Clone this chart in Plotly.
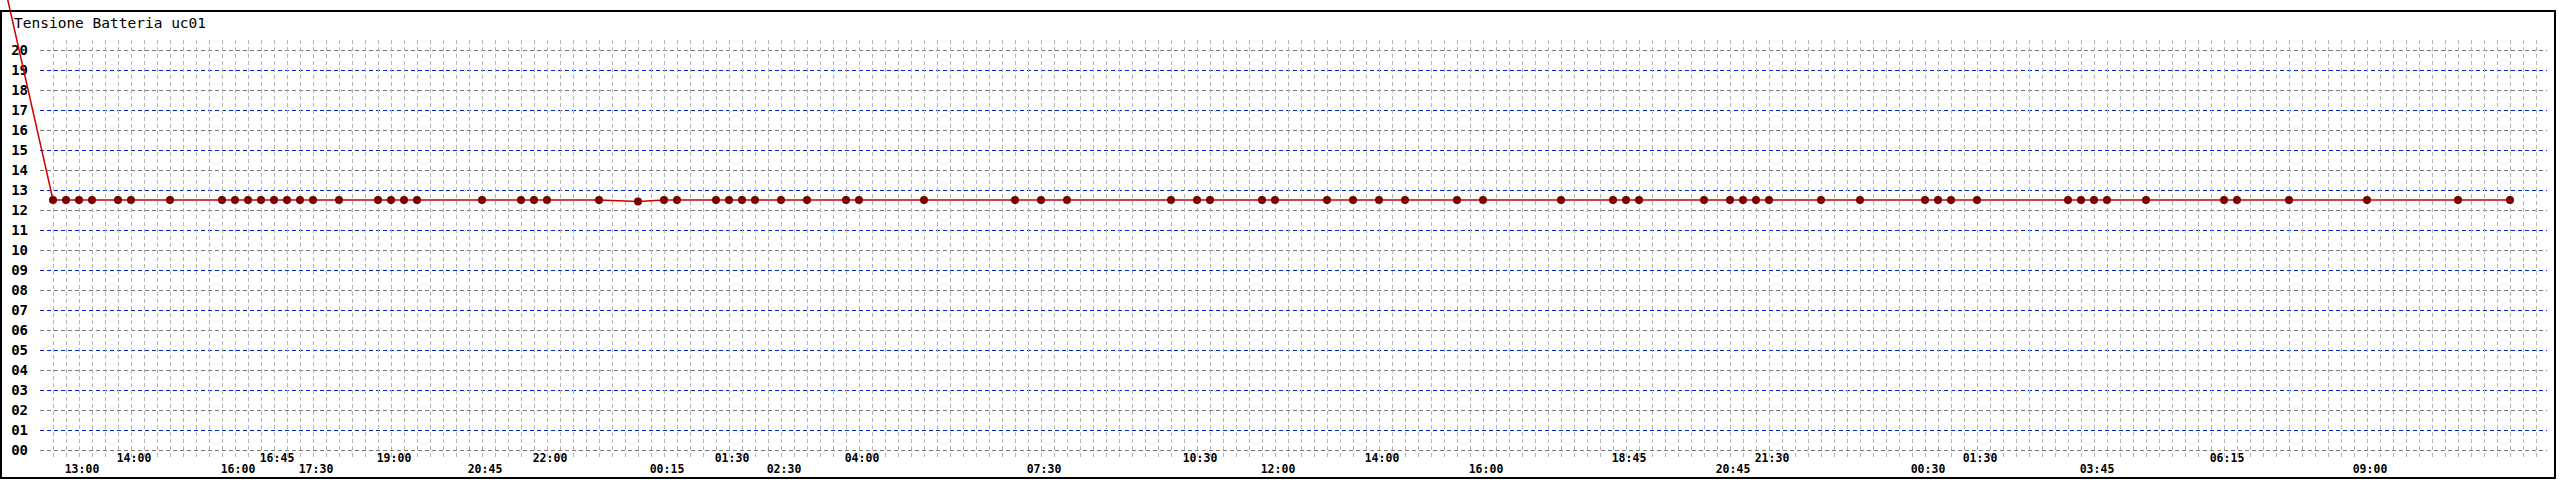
import plotly.graph_objects as go
from datetime import datetime, timedelta

# ---------------- data ----------------
times = [
    "2013-03-01 11:30",
    "2013-03-01 12:30", "2013-03-01 12:45", "2013-03-01 13:00", "2013-03-01 13:15",
    "2013-03-01 13:45", "2013-03-01 14:00", "2013-03-01 14:45", "2013-03-01 15:45",
    "2013-03-01 16:00", "2013-03-01 16:15", "2013-03-01 16:30", "2013-03-01 16:45",
    "2013-03-01 17:00", "2013-03-01 17:15", "2013-03-01 17:30", "2013-03-01 18:00",
    "2013-03-01 18:45", "2013-03-01 19:00", "2013-03-01 19:15", "2013-03-01 19:30",
    "2013-03-01 20:45", "2013-03-01 21:30", "2013-03-01 21:45", "2013-03-01 22:00",
    "2013-03-01 23:00", "2013-03-01 23:45",
    "2013-03-02 00:15", "2013-03-02 00:30", "2013-03-02 01:15", "2013-03-02 01:30",
    "2013-03-02 01:45", "2013-03-02 02:00", "2013-03-02 02:30", "2013-03-02 03:00",
    "2013-03-02 03:45", "2013-03-02 04:00", "2013-03-02 05:15", "2013-03-02 07:00",
    "2013-03-02 07:30", "2013-03-02 08:00", "2013-03-02 10:00", "2013-03-02 10:30",
    "2013-03-02 10:45", "2013-03-02 11:45", "2013-03-02 12:00", "2013-03-02 13:00",
    "2013-03-02 13:30", "2013-03-02 14:00", "2013-03-02 14:30", "2013-03-02 15:30",
    "2013-03-02 16:00", "2013-03-02 17:30", "2013-03-02 18:30", "2013-03-02 18:45",
    "2013-03-02 19:00", "2013-03-02 20:15", "2013-03-02 20:45", "2013-03-02 21:00",
    "2013-03-02 21:15", "2013-03-02 21:30", "2013-03-02 22:30", "2013-03-02 23:15",
    "2013-03-03 00:30", "2013-03-03 00:45", "2013-03-03 01:00", "2013-03-03 01:30",
    "2013-03-03 03:15", "2013-03-03 03:30", "2013-03-03 03:45", "2013-03-03 04:00",
    "2013-03-03 04:45", "2013-03-03 06:15", "2013-03-03 06:30", "2013-03-03 07:30",
    "2013-03-03 09:00", "2013-03-03 10:45", "2013-03-03 11:45",
]
values = [24.0] + [12.5] * 25 + [12.42] + [12.5] * 51

tick_upper = [
    "2013-03-01 14:00", "2013-03-01 16:45", "2013-03-01 19:00", "2013-03-01 22:00",
    "2013-03-02 01:30", "2013-03-02 04:00", "2013-03-02 10:30", "2013-03-02 14:00",
    "2013-03-02 18:45", "2013-03-02 21:30", "2013-03-03 01:30", "2013-03-03 06:15",
]
tick_lower = [
    "2013-03-01 13:00", "2013-03-01 16:00", "2013-03-01 17:30", "2013-03-01 20:45",
    "2013-03-02 00:15", "2013-03-02 02:30", "2013-03-02 07:30", "2013-03-02 12:00",
    "2013-03-02 16:00", "2013-03-02 20:45", "2013-03-03 00:30", "2013-03-03 03:45",
    "2013-03-03 09:00",
]
y_even = list(range(0, 21, 2))
y_odd = list(range(1, 20, 2))
title_text = "Tensione Batteria uc01"

# ---------------- layout geometry ----------------
W, H = 2560, 480
t0 = datetime(2013, 3, 1, 12, 15)
slot = timedelta(minutes=15)
SLOT_PX = 13
X0_PX = 40
PLOT_L, PLOT_R, PLOT_T, PLOT_B = 40, 2547, 40, 458


def xt(px):
    return (t0 + slot * ((px - X0_PX) / SLOT_PX)).strftime("%Y-%m-%d %H:%M:%S.%f")


def yv(px):
    return (450 - px) / 20.0


def hhmm(s):
    return s[-5:]


mono = "DejaVu Sans Mono"
xfont = dict(family=mono, size=11.5, color="black", weight="bold")
yfont = dict(family=mono, size=14, color="black", weight="bold")

fig = go.Figure()
# helper empty traces so every axis pair exists
fig.add_trace(go.Scatter(x=[], y=[], xaxis="x", yaxis="y", showlegend=False))
fig.add_trace(go.Scatter(x=[], y=[], xaxis="x2", yaxis="y", showlegend=False))
fig.add_trace(go.Scatter(x=[], y=[], xaxis="x3", yaxis="y", showlegend=False))
fig.add_trace(go.Scatter(x=[], y=[], xaxis="x", yaxis="y2", showlegend=False))

# data on a full-figure axis pair with the same scale (so the line can overflow)
fig.add_trace(go.Scatter(
    x=times, y=values, xaxis="x4", yaxis="y4", mode="lines+markers",
    line=dict(color="#cc0000", width=1.5),
    marker=dict(color="#7a0000", size=8, line=dict(width=0)),
    showlegend=False, hoverinfo="skip",
))

xmain_range = [xt(PLOT_L), xt(PLOT_R)]
ymain_range = [yv(PLOT_B), yv(PLOT_T)]
xdom = [PLOT_L / W, PLOT_R / W]
ydom = [1 - PLOT_B / H, 1 - PLOT_T / H]

fig.update_layout(
    width=W, height=H,
    margin=dict(l=0, r=0, t=0, b=0, pad=0),
    paper_bgcolor="white", plot_bgcolor="rgba(0,0,0,0)",
    showlegend=False,
    xaxis=dict(
        domain=xdom, range=xmain_range, type="date", anchor="y",
        tickmode="array", tickvals=tick_upper, ticktext=[hhmm(s) for s in tick_upper],
        showgrid=False, zeroline=False, ticks="", showline=False,
        tickfont=xfont, ticklabelshift=3, ticklabelstandoff=-9,
    ),
    xaxis2=dict(
        overlaying="x", anchor="y", range=xmain_range, type="date",
        tick0=t0.strftime("%Y-%m-%d %H:%M"), dtick=15 * 60 * 1000, tickmode="linear",
        showgrid=True, gridcolor="#b4b4b4", griddash="4px,3px", gridwidth=1,
        showticklabels=False, ticks="", zeroline=False, showline=False,
    ),
    xaxis3=dict(
        overlaying="x", anchor="y", range=xmain_range, type="date",
        tickmode="array", tickvals=tick_lower, ticktext=[hhmm(s) for s in tick_lower],
        showgrid=False, zeroline=False, ticks="", showline=False,
        tickfont=xfont, ticklabelshift=3, ticklabelstandoff=2,
    ),
    yaxis=dict(
        domain=ydom, range=ymain_range, anchor="x",
        tickmode="array", tickvals=y_even, ticktext=["%02d" % v for v in y_even],
        showgrid=True, gridcolor="#7a7a7a", griddash="4px,3px", gridwidth=1,
        zeroline=False, ticks="", showline=False,
        tickfont=yfont, ticklabelstandoff=11,
    ),
    yaxis2=dict(
        overlaying="y", anchor="x", side="left", range=ymain_range,
        tickmode="array", tickvals=y_odd, ticktext=["%02d" % v for v in y_odd],
        showgrid=True, gridcolor="#0028c8", griddash="4px,3px", gridwidth=1.2,
        zeroline=False, ticks="", showline=False,
        tickfont=yfont, ticklabelstandoff=11,
    ),
    xaxis4=dict(domain=[0, 1], range=[xt(0), xt(W)], type="date", anchor="y4", visible=False),
    yaxis4=dict(domain=[0, 1], range=[yv(H), yv(0)], anchor="x4", visible=False),
    shapes=[dict(
        type="rect", xref="paper", yref="paper",
        x0=1 / W, x1=2555 / W, y0=1 - 478 / H, y1=1 - 11 / H,
        line=dict(color="black", width=2), fillcolor="rgba(0,0,0,0)", layer="above",
    )],
    annotations=[dict(
        text=title_text, xref="paper", yref="paper", x=12 / W, y=1 - 23 / H,
        xanchor="left", yanchor="middle", showarrow=False,
        font=dict(family=mono, size=14.5, color="black"),
    )],
)

fig.write_html(
    "out.html",
    config={"displayModeBar": False},
    post_script="document.body.style.margin='0px';document.body.style.overflow='hidden';",
)
